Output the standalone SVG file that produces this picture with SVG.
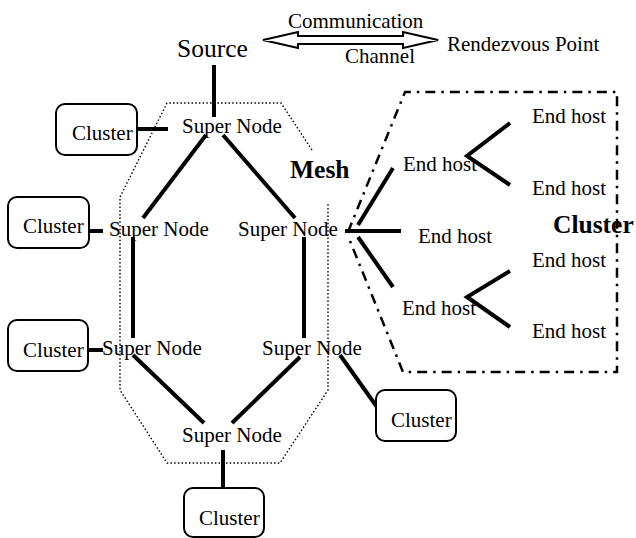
<svg xmlns="http://www.w3.org/2000/svg" width="636" height="538" viewBox="0 0 636 538">
  <style>
    text { font-family: "Liberation Serif", "Times New Roman", serif; fill: #000; }
    .lbl { font-size: 21px; }
    .big { font-size: 25.5px; }
    .bold { font-size: 25.5px; font-weight: bold; }
    .link { stroke: #000; stroke-width: 4; fill: none; }
    .box { fill: #fff; stroke: #000; stroke-width: 2; }
    .mesh { fill: none; stroke: #000; stroke-width: 1.4; stroke-dasharray: 1.5 2.2; }
    .region { fill: none; stroke: #000; stroke-width: 2.5; stroke-dasharray: 10 6 2.5 6; }
  </style>
  <rect width="636" height="538" fill="#fff"/>

  <!-- dotted mesh outline -->
  <path class="mesh" d="M312,150 L281,103 L167,103 L120,197 L120,390 L167,463 L280,463 L328,390 L328,202"/>

  <!-- dash-dot cluster region -->
  <path class="region" d="M348,232 L405,92 L617,92 L617,372 L403,372 L348,236"/>

  <!-- communication channel double arrow -->
  <polygon points="263,40 298,32 298,36 403,36 403,32 438,40 403,48 403,44 298,44 298,48" fill="#fff" stroke="#000" stroke-width="2" stroke-linejoin="miter"/>

  <g id="connectors">
    <line class="link" x1="214" y1="65" x2="214" y2="117"/>
    <line class="link" x1="137" y1="129" x2="168" y2="129"/>
    <line class="link" x1="206" y1="135" x2="143" y2="218"/>
    <line class="link" x1="223" y1="135" x2="295" y2="218"/>
    <line class="link" x1="89" y1="231" x2="103" y2="231"/>
    <line class="link" x1="133" y1="237" x2="133" y2="338"/>
    <line class="link" x1="304" y1="237" x2="304" y2="338"/>
    <line class="link" x1="88" y1="350" x2="103" y2="350"/>
    <line class="link" x1="133" y1="355" x2="204" y2="423"/>
    <line class="link" x1="300" y1="357" x2="232" y2="423"/>
    <line class="link" x1="223" y1="450" x2="223" y2="488"/>
    <line class="link" x1="340" y1="355" x2="377" y2="407"/>
    <line class="link" x1="345" y1="231" x2="401" y2="231"/>
    <line class="link" x1="358" y1="225" x2="393" y2="168"/>
    <line class="link" x1="358" y1="237" x2="393" y2="287"/>
    <polyline class="link" points="510,123 467,156 510,185"/>
    <polyline class="link" points="510,271 467,297 510,327"/>
  </g>

  <g id="labels">
    <text class="lbl" x="288" y="28">Communication</text>
    <text class="lbl" x="345" y="63">Channel</text>
    <text class="big" x="177" y="57">Source</text>
    <text class="lbl" x="447" y="51">Rendezvous Point</text>
    <text class="bold" x="290" y="178">Mesh</text>
    <text class="bold" x="553" y="233">Cluster</text>
  </g>

  <g id="sn-top"><text class="lbl" x="182" y="133">Super Node</text></g>
  <g id="sn-left"><text class="lbl" x="109" y="236">Super Node</text></g>
  <g id="sn-right"><text class="lbl" x="238" y="236">Super Node</text></g>
  <g id="sn-lower-left"><text class="lbl" x="102" y="355">Super Node</text></g>
  <g id="sn-lower-right"><text class="lbl" x="262" y="355">Super Node</text></g>
  <g id="sn-bottom"><text class="lbl" x="182" y="442">Super Node</text></g>

  <g id="cluster-top"><rect class="box" x="56" y="104" width="81" height="51" rx="9"/><text class="lbl" x="72" y="140">Cluster</text></g>
  <g id="cluster-left"><rect class="box" x="8" y="197" width="81" height="51" rx="9"/><text class="lbl" x="23" y="233">Cluster</text></g>
  <g id="cluster-lower-left"><rect class="box" x="8" y="320" width="80" height="51" rx="9"/><text class="lbl" x="23" y="357">Cluster</text></g>
  <g id="cluster-right"><rect class="box" x="376" y="390" width="80" height="51" rx="9"/><text class="lbl" x="391" y="427">Cluster</text></g>
  <g id="cluster-bottom"><rect class="box" x="184" y="488" width="80" height="49" rx="9"/><text class="lbl" x="199" y="525">Cluster</text></g>

  <g id="host-a"><text class="lbl" x="403" y="171">End host</text></g>
  <g id="host-a1"><text class="lbl" x="532" y="123">End host</text></g>
  <g id="host-a2"><text class="lbl" x="532" y="195">End host</text></g>
  <g id="host-b"><text class="lbl" x="418" y="243">End host</text></g>
  <g id="host-c"><text class="lbl" x="402" y="315">End host</text></g>
  <g id="host-c1"><text class="lbl" x="532" y="267">End host</text></g>
  <g id="host-c2"><text class="lbl" x="532" y="338">End host</text></g>
</svg>
